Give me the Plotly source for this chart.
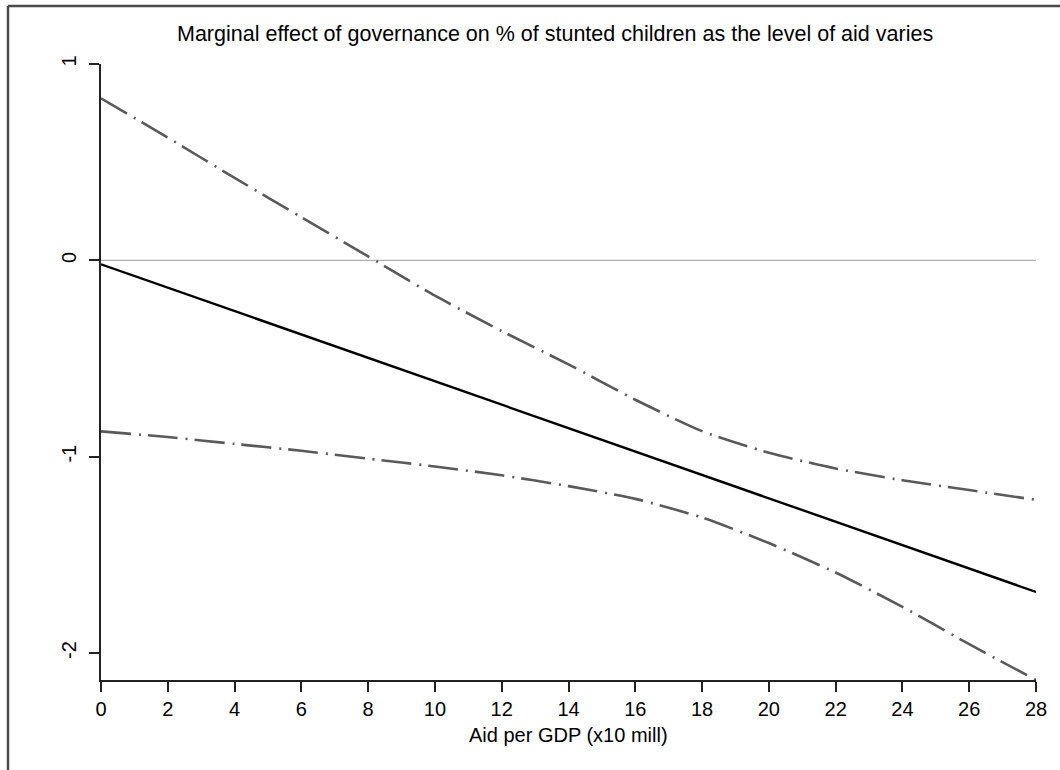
import plotly.graph_objects as go

# Aid per GDP (x10 mill)
aid = [0, 2, 4, 6, 8, 10, 12, 14, 16, 18, 20, 22, 24, 26, 28]

# Marginal effect of governance and its confidence bounds
effect = [-0.020, -0.139, -0.258, -0.378, -0.497, -0.616, -0.735, -0.854,
          -0.974, -1.093, -1.212, -1.331, -1.450, -1.570, -1.689]
upper = [0.825, 0.625, 0.42, 0.22, 0.02, -0.18, -0.36, -0.53, -0.71, -0.87,
         -0.98, -1.06, -1.12, -1.17, -1.22]
lower = [-0.871, -0.90, -0.935, -0.97, -1.01, -1.05, -1.095, -1.15, -1.215,
         -1.31, -1.44, -1.59, -1.765, -1.955, -2.1375]

x_ticks = list(range(0, 29, 2))
y_ticks = [-2, -1, 0, 1]
y_tick_labels = ["-2", "-1", "0", "1"]

FONT = "Liberation Sans, Arial, sans-serif"
W, H = 1060, 770
L, R, T, B = 101, 24, 64, 90
pw, ph = W - L - R, H - T - B


def px_x(p):
    return (p - L) / pw


def px_y(p):
    return (H - B - p) / ph


fig = go.Figure()

# reference line at zero
fig.add_trace(go.Scatter(x=[aid[0], aid[-1]], y=[0, 0], mode="lines",
                         line=dict(color="#b0b0b0", width=1.2),
                         hoverinfo="skip", showlegend=False))

ci_style = dict(color="#5a5a5a", width=2.6, dash="30px,8px,2px,7px",
                shape="spline", smoothing=0.6)
fig.add_trace(go.Scatter(x=aid, y=upper, mode="lines", line=ci_style,
                         showlegend=False))
fig.add_trace(go.Scatter(x=aid, y=lower, mode="lines", line=ci_style,
                         showlegend=False))
fig.add_trace(go.Scatter(x=aid, y=effect, mode="lines",
                         line=dict(color="black", width=2.4),
                         showlegend=False))

axis_common = dict(showgrid=False, zeroline=False, showline=True,
                   linecolor="#222222", linewidth=1.5, ticks="outside",
                   ticklen=10, tickwidth=1.5, tickcolor="#222222",
                   tickfont=dict(family=FONT, size=20, color="black"))

fig.update_xaxes(range=[0, 28], tickvals=x_ticks, ticklabelstandoff=0,
                 **axis_common)
fig.update_yaxes(range=[-2.1375, 1.0], tickvals=y_ticks,
                 ticktext=y_tick_labels, tickangle=-90,
                 ticklabelstandoff=5, **axis_common)

# outer graph frame (top and left edges)
frame = dict(color="#4a4a4a", width=2.5)
fig.add_shape(type="line", xref="paper", yref="paper",
              x0=px_x(8), x1=px_x(W + 10), y0=px_y(6), y1=px_y(6), line=frame)
fig.add_shape(type="line", xref="paper", yref="paper",
              x0=px_x(8), x1=px_x(8), y0=px_y(6), y1=px_y(H + 10), line=frame)

fig.add_annotation(text="Marginal effect of governance on % of stunted children as the level of aid varies",
                   xref="paper", yref="paper", x=px_x(555), y=px_y(34),
                   showarrow=False, xanchor="center", yanchor="middle",
                   font=dict(family=FONT, size=21.5, color="black"))
fig.add_annotation(text="Aid per GDP (x10 mill)",
                   xref="paper", yref="paper", x=px_x(568), y=px_y(735),
                   showarrow=False, xanchor="center", yanchor="middle",
                   font=dict(family=FONT, size=20, color="black"))

fig.update_layout(width=W, height=H, margin=dict(l=L, r=R, t=T, b=B),
                  plot_bgcolor="white", paper_bgcolor="white")

fig.write_html("out.html")
